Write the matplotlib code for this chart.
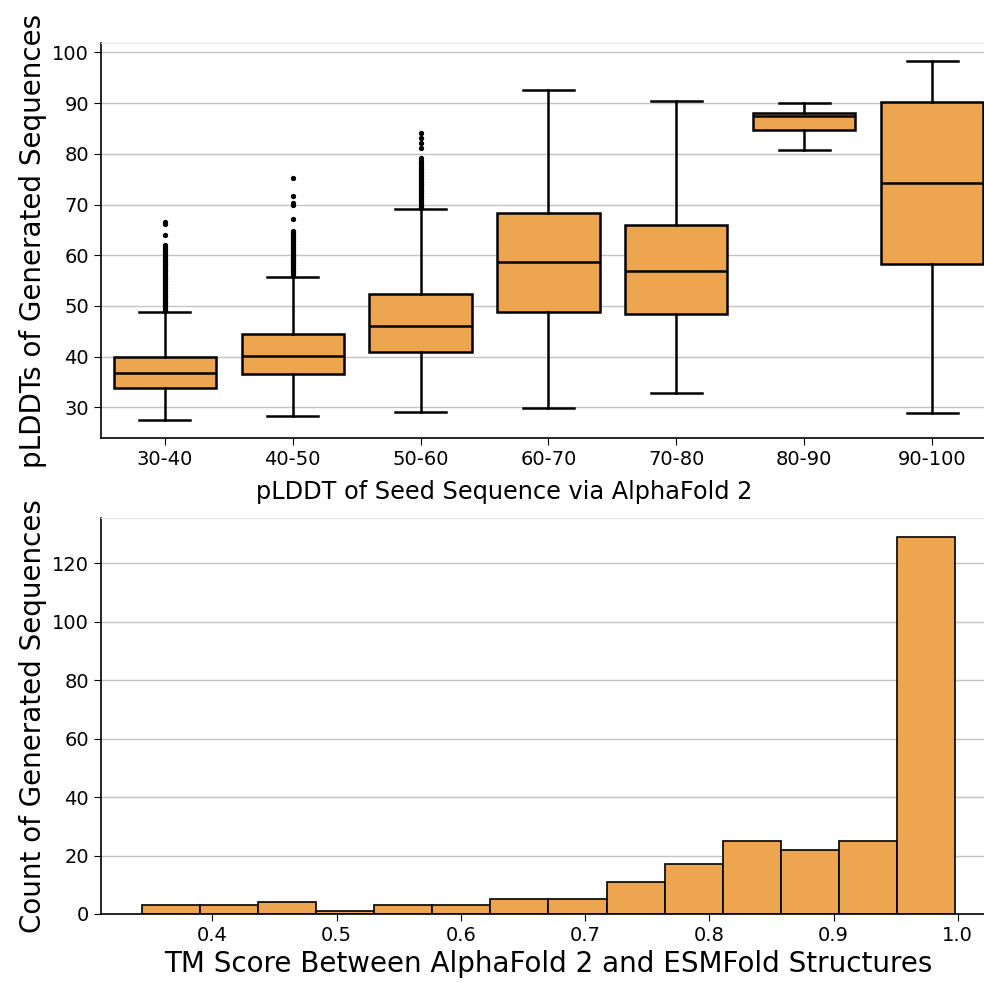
import matplotlib
matplotlib.use("Agg")
import matplotlib.pyplot as plt
import numpy as np

# top panel: per-bin box statistics
categories = ["30-40", "40-50", "50-60", "60-70", "70-80", "80-90", "90-100"]
whislo = [27.5, 28.4, 29.1, 29.9, 32.9, 80.7, 28.8]
q1 = [33.9, 36.6, 41.0, 48.9, 48.5, 84.7, 58.2]
med = [36.8, 40.1, 46.1, 58.7, 56.8, 87.4, 74.2]
q3 = [40.0, 44.4, 52.4, 68.4, 66.0, 88.1, 90.2]
whishi = [48.8, 55.8, 69.1, 92.5, 90.4, 90.1, 98.3]

fliers_30_40 = [49.0, 49.3, 49.6, 49.9, 50.2, 50.5, 50.8, 51.1, 51.4, 51.7,
                52.0, 52.3, 52.6, 52.9, 53.2, 53.5, 53.8, 54.1, 54.4, 54.7,
                55.0, 55.3, 55.6, 55.9, 56.2, 56.5, 56.8, 57.1, 57.4, 57.7,
                58.0, 58.3, 58.6, 58.9, 59.2, 59.5, 59.8, 60.1, 60.5, 60.9,
                61.3, 61.7, 62.1, 63.9, 66.1, 66.5]
fliers_40_50 = [56.0, 56.3, 56.6, 56.9, 57.2, 57.5, 57.8, 58.1, 58.4, 58.7,
                59.0, 59.3, 59.6, 59.9, 60.2, 60.5, 60.8, 61.1, 61.4, 61.7,
                62.0, 62.3, 62.6, 62.9, 63.2, 63.5, 63.8, 64.1, 64.4, 64.8,
                67.1, 69.9, 70.4, 71.6, 75.3]
fliers_50_60 = [69.3, 69.6, 69.9, 70.2, 70.5, 70.8, 71.1, 71.4, 71.7, 72.0,
                72.3, 72.6, 72.9, 73.2, 73.5, 73.8, 74.1, 74.4, 74.7, 75.0,
                75.3, 75.6, 75.9, 76.2, 76.5, 76.8, 77.1, 77.4, 77.8, 78.2,
                78.6, 79.2, 81.2, 82.2, 83.2, 84.2]
fliers = [fliers_30_40, fliers_40_50, fliers_50_60, [], [], [], []]

# bottom panel: histogram counts and bin range
tm_counts = [3, 3, 4, 1, 3, 3, 5, 5, 11, 17, 25, 22, 25, 129]
tm_min = 0.343
tm_max = 0.998

orange = "#eda550"
grid_color = "#c4c4c4"

fig = plt.figure(figsize=(9.84, 9.83), dpi=100)
ax1 = fig.add_axes([0.1026, 0.5544, 0.9096, 0.4018])
ax2 = fig.add_axes([0.1026, 0.0702, 0.9096, 0.4028])

stats = []
for i, name in enumerate(categories):
    stats.append(dict(label=name, whislo=whislo[i], q1=q1[i], med=med[i],
                      q3=q3[i], whishi=whishi[i], fliers=fliers[i]))

lw = 1.8
ax1.bxp(stats, positions=range(len(categories)), widths=0.8, capwidths=0.4,
        patch_artist=True,
        boxprops=dict(facecolor=orange, edgecolor="black", linewidth=lw),
        medianprops=dict(color="black", linewidth=lw),
        whiskerprops=dict(color="black", linewidth=lw),
        capprops=dict(color="black", linewidth=lw),
        flierprops=dict(marker="o", markerfacecolor="black",
                        markeredgecolor="black", markersize=2.8))
ax1.set_xlim(-0.5, len(categories) - 0.5)
ax1.set_xticks(range(len(categories)))
ax1.set_xticklabels(categories)
ax1.set_xlabel("pLDDT of Seed Sequence via AlphaFold 2", fontsize=17.3,
               labelpad=8)
ax1.xaxis.label.set_x(0.45)
ax1.set_ylabel("pLDDTs of Generated Sequences", fontsize=20)

edges = np.linspace(tm_min, tm_max, len(tm_counts) + 1)
ax2.hist(edges[:-1], bins=edges, weights=tm_counts, color=orange,
         edgecolor="black", linewidth=1.2)
ax2.set_xlabel("TM Score Between AlphaFold 2 and ESMFold Structures", fontsize=20)
ax2.set_ylabel("Count of Generated Sequences", fontsize=20)

for ax in (ax1, ax2):
    ax.set_axisbelow(True)
    ax.yaxis.grid(True, color=grid_color, linewidth=1.0)
    ax.tick_params(labelsize=14, length=5)
    ax.spines["right"].set_visible(False)
    ax.spines["top"].set_color("#e6e6e6")
    ax.spines["left"].set_linewidth(1.2)
    ax.spines["bottom"].set_linewidth(1.2)

fig.savefig("out.png", dpi=100)
